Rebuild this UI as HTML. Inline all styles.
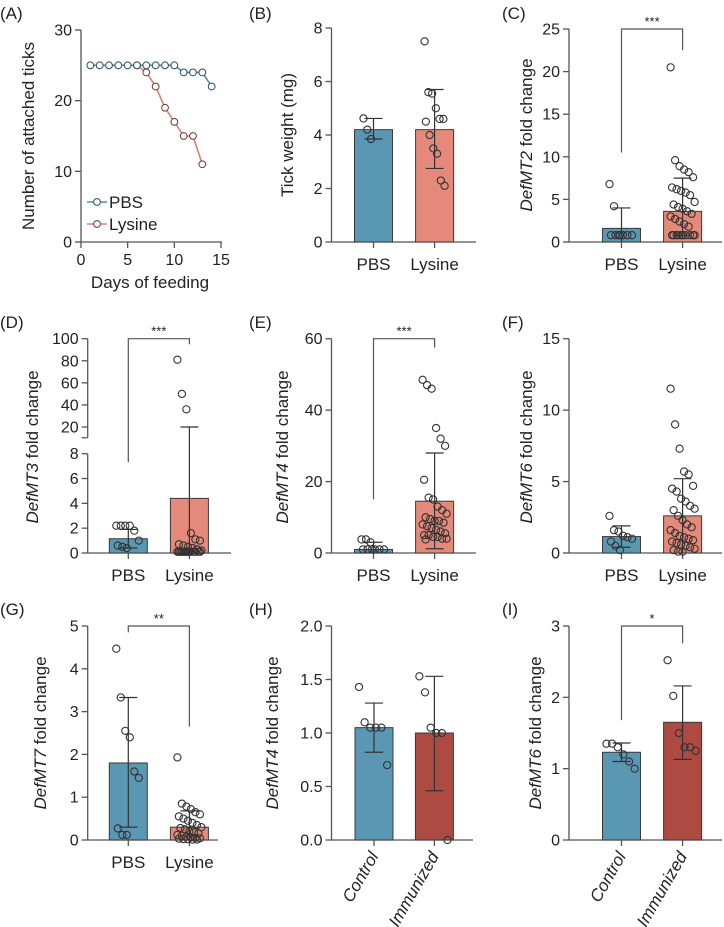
<!DOCTYPE html>
<html><head><meta charset="utf-8"><style>
html,body{margin:0;padding:0;background:#fff;}
svg{display:block;font-family:"Liberation Sans Narrow","Liberation Sans",sans-serif;}
</style></head><body>
<svg id="fig" width="724" height="927" viewBox="0 0 724 927" xmlns="http://www.w3.org/2000/svg"></svg>
<script>
// ---- Panel A data ----
const aDays = [1,2,3,4,5,6,7,8,9,10,11,12,13,14];
const aPBS = [25,25,25,25,25,25,25,25,25,25,24,24,24,22];
const aLysDays = [6,7,8,9,10,11,12,13];
const aLys = [25,24,22,19,17,15,15,11];
const aXTicks = [0,5,10,15];
const aYTicks = [0,10,20,30];
// ---- Panel B ----
const bMeans = [4.2,4.2];
const bErr = [[3.85,4.62],[2.75,5.7]];
const bPBS = [4.62,4.2,3.85];
const bLys = [7.5,5.6,5.55,5.0,4.6,4.6,4.5,4.0,3.5,3.3,2.3,2.1];
const bTicks = [0,2,4,6,8];
// ---- Panel C ----
const cMeans = [1.6,3.6];
const cErr = [[0,4.0],[0.8,7.5]];
const cPBS = [6.8,4.2,0.8,0.8,0.8,0.8,0.8,0.8,0.8];
const cLys = [20.5,9.6,8.9,8.5,8.2,7.6,6.4,6.2,6.0,5.8,5.5,4.7,4.4,4.1,3.9,3.6,3.3,3.0,2.7,2.4,2.1,1.8,0.8,0.8,0.8,0.8,0.8,0.8,0.8,0.8,0.8,0.8];
const cTicks = [0,5,10,15,20,25];
// ---- Panel D ----
const dMeans = [1.15,4.4];
const dErr = [[0.4,1.9],[0,20]];
const dPBS = [2.2,2.2,2.2,2.2,1.8,1.0,0.6,0.5,0.4];
const dLys = [81,50,36,1.6,1.1,1.0,0.7,0.6,0.5,0.4,0.3,0.2,0.1,0.1,0.1,0.1,0.1,0.1,0.1,0.1,0.1,0.1,0.1,0.1,0.1,0.1];
const dTicksLow = [0,2,4,6,8];
const dTicksHigh = [20,40,60,80,100];
// ---- Panel E ----
const eMeans = [1.0,14.5];
const eErr = [[0,3.0],[1.2,28]];
const ePBS = [3.8,3.8,3.0,1.0,1.0,1.0,1.0,1.0,1.0];
const eLys = [48.5,47,46,35,32,30,20.5,15.5,15,13,12,11,10,9.5,9,9,8.5,8,7.5,7,6.5,6,5.5,5,5,4.5,4.5,4,4,3.8];
const eTicks = [0,20,40,60];
// ---- Panel F ----
const fMeans = [1.15,2.6];
const fErr = [[0.4,1.9],[0,5.2]];
const fPBS = [2.6,1.6,1.5,1.2,1.1,1.0,0.8,0.5,0.2];
const fLys = [11.5,9.0,7.3,5.7,5.5,4.7,4.5,4.3,3.8,3.6,3.3,3.1,3.0,2.6,2.3,2.0,1.8,1.6,1.4,1.2,1.1,1.0,0.9,0.8,0.7,0.6,0.5,0.4,0.3,0.2,0.1,0.1];
const fTicks = [0,5,10,15];
// ---- Panel G ----
const gMeans = [1.8,0.3];
const gErr = [[0.3,3.33],[0,0.68]];
const gPBS = [4.47,3.33,2.55,2.4,1.6,1.45,0.27,0.12,0.12];
const gLys = [1.93,0.85,0.78,0.72,0.65,0.6,0.55,0.5,0.45,0.4,0.35,0.3,0.28,0.25,0.2,0.18,0.15,0.12,0.1,0.08,0.06,0.05,0.04,0.03,0.02,0.02,0.01,0.01];
const gTicks = [0,1,2,3,4,5];
// ---- Panel H ----
const hMeans = [1.05,1.0];
const hErr = [[0.82,1.28],[0.46,1.53]];
const hCtrl = [1.43,1.1,1.05,1.05,1.05,0.7];
const hImm = [1.53,1.38,1.05,1.0,1.0,0.0];
const hTicks = [0,0.5,1.0,1.5,2.0];
const hTickLabels = ["0.0","0.5","1.0","1.5","2.0"];
// ---- Panel I ----
const iMeans = [1.23,1.65];
const iErr = [[1.1,1.36],[1.13,2.16]];
const iCtrl = [1.35,1.35,1.3,1.2,1.1,1.0];
const iImm = [2.52,2.02,1.5,1.3,1.3,1.25];
const iTicks = [0,1,2,3];

const NS = "http://www.w3.org/2000/svg";
const svg = document.getElementById('fig');
const BLUE="#5a97b3", SALMON="#e58a7b", DRED="#ad4b42", AX="#555", DARK="#333";
function mk(tag, attrs, parent){
  const e=document.createElementNS(NS,tag);
  for(const k in attrs) e.setAttribute(k,attrs[k]);
  (parent||svg).appendChild(e); return e;
}
function txt(s,x,y,size,anchor,parent,extra){
  const t=mk('text',Object.assign({x:x,y:y,'font-size':size,'text-anchor':anchor||'middle',fill:'#222'},extra||{}),parent);
  t.textContent=s; return t;
}
function grp(name){const g=mk('g',{});return g;}
function circ(g,x,y,name){const c=mk('circle',{cx:x,cy:y,r:3.6,fill:'none',stroke:DARK,'stroke-width':1.1},g);return c;}
function jit(i,n,w){ if(n<=1) return 0; return (((i*37)%17)-8)/8*w; }

function panelLabel(s,x,y){const t=txt(s,x,y,17,'start');}

function yTitle(g,gene,x,cy){
  const t=mk('text',{x:0,y:0,'font-size':17,'text-anchor':'middle',fill:'#222',transform:`translate(${x},${cy}) rotate(-90)`},g);
  
  if(gene){const s=mk('tspan',{'font-style':'italic'},t);s.textContent=gene;const s2=mk('tspan',{},t);s2.textContent=' fold change';}
  else t.textContent=gene===null?'':'';
  return t;
}

// generic bar panel
function barPanel(o){
  const g=grp(o.name);
  const y=v=>o.y0-(v-o.min)/(o.max-o.min)*(o.y0-o.yTop);
  const ys=o.yfun||y;
  // axes
  const ya=mk('line',{x1:o.ax,x2:o.ax,y1:o.yTop,y2:o.y0,stroke:AX,'stroke-width':1.3},g);
  
  const xa=mk('line',{x1:o.ax,x2:o.xEnd,y1:o.y0,y2:o.y0,stroke:AX,'stroke-width':1.3},g);
  
  o.ticks.forEach((v,i)=>{
    const yy=ys(v);
    mk('line',{x1:o.ax-6,x2:o.ax,y1:yy,y2:yy,stroke:AX,'stroke-width':1.3},g);
    const t=txt(o.tickLabels?o.tickLabels[i]:String(v),o.ax-9,yy+5.5,16,'end',g);
    
  });
  const colors=o.colors;
  o.cats.forEach((c,k)=>{
    const cx=o.cx[k];
    const b=mk('rect',{x:cx-19,y:ys(o.means[k]),width:38,height:o.y0-ys(o.means[k]),fill:colors[k],stroke:'#3a3a3a','stroke-width':1},g);
    
    mk('line',{x1:cx,x2:cx,y1:o.y0,y2:o.y0+6,stroke:AX,'stroke-width':1.3},g);
    const pts=o.points[k];
    pts.forEach((v,i)=>circ(g,cx+jit(i,pts.length,o.jw||12),ys(v),'point-'+c.toLowerCase()));
    const e=o.errs[k];
    mk('line',{x1:cx,x2:cx,y1:ys(e[0]),y2:ys(e[1]),stroke:DARK,'stroke-width':1.2},g);
    mk('line',{x1:cx-9,x2:cx+9,y1:ys(e[1]),y2:ys(e[1]),stroke:DARK,'stroke-width':1.2},g);
    if(e[0]>0) mk('line',{x1:cx-9,x2:cx+9,y1:ys(e[0]),y2:ys(e[0]),stroke:DARK,'stroke-width':1.2},g);
    if(o.rot){
      const t=mk('text',{x:0,y:0,'font-size':17,'text-anchor':'end','font-style':'italic',fill:'#222',transform:`translate(${cx+5},${o.y0+16}) rotate(-60)`},g);
      t.textContent=c;
    } else {
      const t=txt(c,cx,o.y0+28,17,'middle',g);
    }
  });
  if(o.sig){
    const s=o.sig;const sy=ys(s.top);
    const p=mk('path',{d:`M${o.cx[0]},${ys(s.l)} V${sy} H${o.cx[1]} V${ys(s.r)}`,fill:'none',stroke:AX,'stroke-width':1.2},g);
    
    const t=txt(s.label,(o.cx[0]+o.cx[1])/2,sy-3,13,'middle',g);
  }
  yTitle(g,o.gene,o.titleX,o.titleY);
  return g;
}

// ---- Panel A ----
(function(){
  const g=grp('panel-a-line-chart');
  const x=d=>81+d/15*140, y=v=>242-v/30*212;
  mk('line',{x1:81,x2:81,y1:30,y2:242,stroke:AX,'stroke-width':1.3},g);
  mk('line',{x1:81,x2:222,y1:242,y2:242,stroke:AX,'stroke-width':1.3},g);
  aYTicks.forEach(v=>{mk('line',{x1:75,x2:81,y1:y(v),y2:y(v),stroke:AX,'stroke-width':1.3},g);const t=txt(String(v),72,y(v)+5.5,16,'end',g);});
  aXTicks.forEach(v=>{mk('line',{x1:x(v),x2:x(v),y1:242,y2:248,stroke:AX,'stroke-width':1.3},g);const t=txt(String(v),x(v),265,16,'middle',g);});
  const lp=mk('polyline',{points:aLysDays.map((d,i)=>x(d)+','+y(aLys[i])).join(' '),fill:'none',stroke:'#e08070','stroke-width':1.6},g);
  
  const pp=mk('polyline',{points:aDays.map((d,i)=>x(d)+','+y(aPBS[i])).join(' '),fill:'none',stroke:'#4f8ea8','stroke-width':1.6},g);
  
  aLysDays.forEach((d,i)=>{const c=mk('circle',{cx:x(d),cy:y(aLys[i]),r:3.4,fill:'#fff',stroke:'#6a3a33','stroke-width':1},g);});
  aDays.forEach((d,i)=>{const c=mk('circle',{cx:x(d),cy:y(aPBS[i]),r:3.4,fill:'#fff',stroke:'#2c4f5e','stroke-width':1},g);});
  [['PBS','#4f8ea8','#2c4f5e',202],['Lysine','#e08070','#6a3a33',224]].forEach(L=>{
    const lg=mk('g',{},g);
    mk('line',{x1:87,x2:107,y1:L[3],y2:L[3],stroke:L[1],'stroke-width':1.6},lg);
    mk('circle',{cx:97,cy:L[3],r:3.4,fill:'#fff',stroke:L[2],'stroke-width':1},lg);
    txt(L[0],109,L[3]+6,17,'start',lg);
  });
  const t=mk('text',{x:0,y:0,'font-size':17,'text-anchor':'middle',fill:'#222',transform:'translate(34,136) rotate(-90)'},g);
  t.textContent='Number of attached ticks';
  const xt=txt('Days of feeding',150,288,17,'middle',g);
})();

panelLabel('(A)',0,19);panelLabel('(B)',249,19);panelLabel('(C)',502,19);
panelLabel('(D)',0,328);panelLabel('(E)',249,328);panelLabel('(F)',502,328);
panelLabel('(G)',0,615);panelLabel('(H)',249,615);panelLabel('(I)',502,615);

const std=['PBS','Lysine'];
// B
(function(){
  const g=barPanel({name:'panel-b-tick-weight',ax:331.5,xEnd:476,y0:242,yTop:28,min:0,max:8,ticks:bTicks,cats:std,cx:[373.5,434.6],
    colors:[BLUE,SALMON],means:bMeans,errs:bErr,points:[bPBS,bLys],gene:null,titleX:293,titleY:135,jw:10});
  const t=mk('text',{x:0,y:0,'font-size':17,'text-anchor':'middle',fill:'#222',transform:'translate(293,135) rotate(-90)'},g);
  t.textContent='Tick weight (mg)';
})();
barPanel({name:'panel-c-defmt2',ax:569,xEnd:722,y0:242,yTop:29,min:0,max:25,ticks:cTicks,cats:std,cx:[621.5,682.6],
  colors:[BLUE,SALMON],means:cMeans,errs:cErr,points:[cPBS,cLys],gene:'DefMT2',titleX:532,titleY:135,
  sig:{top:25,l:10.5,r:22.5,label:'***'}});
// D broken axis
(function(){
  const yfun=v=> v<=8 ? 553-v/8*99.3 : 427-(v-20)/80*88.3;
  const g=barPanel({name:'panel-d-defmt3',ax:87.7,xEnd:231,y0:553,yTop:453.7,min:0,max:8,ticks:dTicksLow,cats:std,cx:[128.3,189.4],
    colors:[BLUE,SALMON],means:dMeans,errs:dErr,points:[dPBS,dLys],gene:'DefMT3',titleX:38,titleY:447,yfun:yfun,
    sig:{top:100,l:7.3,r:95,label:'***'}});
  mk('line',{x1:87.7,x2:87.7,y1:338.7,y2:437.7,stroke:AX,'stroke-width':1.3},g);
  mk('line',{x1:81.7,x2:87.7,y1:437.7,y2:437.7,stroke:AX,'stroke-width':1.3},g);
  dTicksHigh.forEach(v=>{const yy=yfun(v);mk('line',{x1:81.7,x2:87.7,y1:yy,y2:yy,stroke:AX,'stroke-width':1.3},g);
    const t=txt(String(v),78.7,yy+5.5,16,'end',g);});
})();
barPanel({name:'panel-e-defmt4',ax:331.5,xEnd:476,y0:553,yTop:338.7,min:0,max:60,ticks:eTicks,cats:std,cx:[373.5,434.6],
  colors:[BLUE,SALMON],means:eMeans,errs:eErr,points:[ePBS,eLys],gene:'DefMT4',titleX:288,titleY:447,
  sig:{top:60,l:15,r:57.5,label:'***'}});
barPanel({name:'panel-f-defmt6',ax:569,xEnd:722,y0:553,yTop:338.7,min:0,max:15,ticks:fTicks,cats:std,cx:[621.5,682.6],
  colors:[BLUE,SALMON],means:fMeans,errs:fErr,points:[fPBS,fLys],gene:'DefMT6',titleX:532,titleY:447});
barPanel({name:'panel-g-defmt7',ax:87.7,xEnd:218,y0:840,yTop:626,min:0,max:5,ticks:gTicks,cats:std,cx:[128.3,189.4],
  colors:[BLUE,SALMON],means:gMeans,errs:gErr,points:[gPBS,gLys],gene:'DefMT7',titleX:46,titleY:733,
  sig:{top:5,l:4.85,r:2.65,label:'**'}});
barPanel({name:'panel-h-defmt4-immunized',ax:331.5,xEnd:473,y0:840,yTop:626,min:0,max:2,ticks:hTicks,tickLabels:hTickLabels,cats:['Control','Immunized'],cx:[374,434.4],
  colors:[BLUE,DRED],means:hMeans,errs:hErr,points:[hCtrl,hImm],gene:'DefMT4',titleX:278,titleY:733,rot:true,jw:15});
barPanel({name:'panel-i-defmt6-immunized',ax:569,xEnd:722,y0:840,yTop:626,min:0,max:3,ticks:iTicks,cats:['Control','Immunized'],cx:[621.5,682.6],
  colors:[BLUE,DRED],means:iMeans,errs:iErr,points:[iCtrl,iImm],gene:'DefMT6',titleX:541,titleY:733,rot:true,jw:15,
  sig:{top:3,l:1.68,r:2.76,label:'*'}});
</script>
</body></html>
